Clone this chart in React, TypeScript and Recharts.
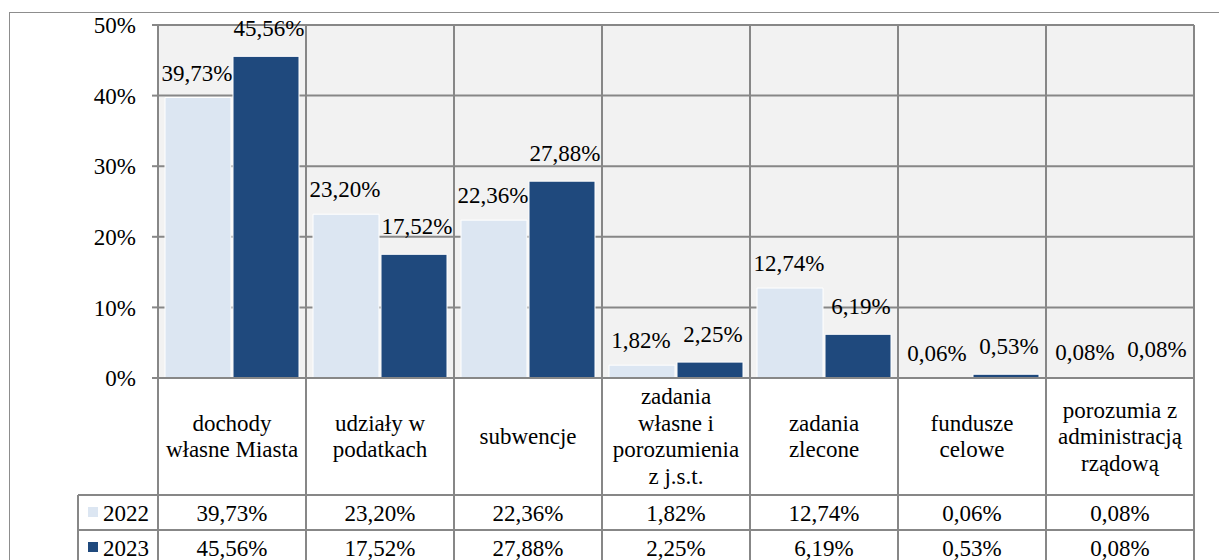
import React from 'react';
import { BarChart, Bar, XAxis, YAxis, CartesianGrid, LabelList } from 'recharts';

const categories = [
  'dochody własne Miasta',
  'udziały w podatkach',
  'subwencje',
  'zadania własne i porozumienia z j.s.t.',
  'zadania zlecone',
  'fundusze celowe',
  'porozumia z administracją rządową',
];
const categoryLines = [
  ['dochody', 'własne Miasta'],
  ['udziały w', 'podatkach'],
  ['subwencje'],
  ['zadania', 'własne i', 'porozumienia', 'z j.s.t.'],
  ['zadania', 'zlecone'],
  ['fundusze', 'celowe'],
  ['porozumia z', 'administracją', 'rządową'],
];
const series2022 = [39.73, 23.2, 22.36, 1.82, 12.74, 0.06, 0.08];
const series2023 = [45.56, 17.52, 27.88, 2.25, 6.19, 0.53, 0.08];
const seriesNames = ['2022', '2023'];
const yTicks = [0, 10, 20, 30, 40, 50];

const data = categories.map((c, i) => ({ name: c, v2022: series2022[i], v2023: series2023[i] }));

const FONT = "'Liberation Serif', 'Times New Roman', serif";
const FS = 23;
const GRID = '#878787';
const C2022 = '#dce6f2';
const C2023 = '#1f497d';

const W = 1219;
const H = 552;
const M = { top: 17, right: 33, left: 90, bottom: 0 };
const YW = 60;
const XH = 182;
const PLOT_L = M.left + YW;
const PLOT_R = W - M.right;
const PLOT_B = H - XH - M.bottom;
const HALF = (PLOT_R - PLOT_L) / categories.length / 2;
const LABEL_CY = 428;
const LINE_H = 26.5;
const ROW1_TOP = 487;
const ROW2_TOP = 522;
const ROW3_TOP = 557;
const LEG_L = 70;

const fmt = (v: number) => v.toFixed(2).replace('.', ',') + '%';

const makeLabel = (dx: number, off: number) => (props: any) => {
  const { x, y, width, value } = props;
  return (
    <text
      x={Number(x) + Number(width) / 2 + dx}
      y={Number(y) - off}
      textAnchor="middle"
      fontSize={FS}
      fontFamily={FONT}
      fill="#000"
    >
      {fmt(Number(value))}
    </text>
  );
};

const CategoryTick = (props: any) => {
  const { x, index } = props;
  const cx = Number(x);
  const lines = categoryLines[index] || [];
  const n = lines.length;
  return (
    <g>
      {index === 0 && (
        <g>
          <line x1={LEG_L} y1={ROW1_TOP} x2={PLOT_R} y2={ROW1_TOP} stroke={GRID} strokeWidth={2} />
          <line x1={LEG_L} y1={ROW2_TOP} x2={PLOT_R} y2={ROW2_TOP} stroke={GRID} strokeWidth={2} />
          <line x1={LEG_L} y1={ROW3_TOP} x2={PLOT_R} y2={ROW3_TOP} stroke={GRID} strokeWidth={2} />
          <line x1={LEG_L} y1={ROW1_TOP} x2={LEG_L} y2={H} stroke={GRID} strokeWidth={2} />
          <rect x={LEG_L + 10} y={ROW1_TOP + 12} width={10} height={10} fill={C2022} />
          <text x={LEG_L + 25} y={ROW1_TOP + 26} fontSize={FS} fontFamily={FONT} fill="#000">{seriesNames[0]}</text>
          <rect x={LEG_L + 10} y={ROW2_TOP + 12} width={10} height={10} fill={C2023} />
          <text x={LEG_L + 25} y={ROW2_TOP + 26} fontSize={FS} fontFamily={FONT} fill="#000">{seriesNames[1]}</text>
        </g>
      )}
      <line x1={cx - HALF} y1={PLOT_B} x2={cx - HALF} y2={H} stroke={GRID} strokeWidth={2} />
      {index === categories.length - 1 && (
        <line x1={cx + HALF} y1={PLOT_B} x2={cx + HALF} y2={H} stroke={GRID} strokeWidth={2} />
      )}
      {lines.map((t, i) => (
        <text
          key={i}
          x={cx}
          y={LABEL_CY + (i - (n - 1) / 2) * LINE_H + 8}
          textAnchor="middle"
          fontSize={FS}
          fontFamily={FONT}
          fill="#000"
        >
          {t}
        </text>
      ))}
      <text x={cx} y={ROW1_TOP + 26} textAnchor="middle" fontSize={FS} fontFamily={FONT} fill="#000">
        {fmt(series2022[index])}
      </text>
      <text x={cx} y={ROW2_TOP + 26} textAnchor="middle" fontSize={FS} fontFamily={FONT} fill="#000">
        {fmt(series2023[index])}
      </text>
    </g>
  );
};

const verticalGen = (args: any) => {
  const off = args && args.offset;
  const left = off && typeof off.left === 'number' ? off.left : PLOT_L;
  const width = off && typeof off.width === 'number' ? off.width : PLOT_R - PLOT_L;
  return Array.from({ length: categories.length + 1 }, (_, i) => left + (i * width) / categories.length);
};

export default function App() {
  return (
    <div style={{ position: 'relative', width: W, height: H, overflow: 'hidden', background: '#fff' }}>
      <div
        style={{
          position: 'absolute',
          left: 1,
          top: 4,
          width: 1400,
          height: 800,
          border: '1.5px solid #8d8d8d',
          boxSizing: 'border-box',
        }}
      />
      <div style={{ position: 'absolute', left: 0, top: 0 }}>
        <BarChart width={W} height={H} data={data} margin={M} barCategoryGap={7} barGap={2}>
          <CartesianGrid
            fill="#f2f2f2"
            fillOpacity={1}
            stroke={GRID}
            strokeWidth={2}
            verticalCoordinatesGenerator={verticalGen}
          />
          <XAxis
            dataKey="name"
            height={XH}
            interval={0}
            tickLine={false}
            axisLine={{ stroke: GRID, strokeWidth: 2 }}
            tick={<CategoryTick />}
          />
          <YAxis
            width={YW}
            domain={[0, 50]}
            ticks={yTicks}
            interval={0}
            tickFormatter={(v: number) => `${v}%`}
            tick={{ fill: '#000', fontSize: FS, fontFamily: FONT }}
            tickLine={{ stroke: GRID, strokeWidth: 2 }}
            tickSize={6}
            tickMargin={16}
            axisLine={{ stroke: GRID, strokeWidth: 2 }}
          />
          <Bar dataKey="v2022" fill={C2022} stroke="#ffffff" strokeWidth={1} isAnimationActive={false}>
            <LabelList dataKey="v2022" content={makeLabel(-1, 17)} />
          </Bar>
          <Bar dataKey="v2023" fill={C2023} stroke="#ffffff" strokeWidth={1} isAnimationActive={false}>
            <LabelList dataKey="v2023" content={makeLabel(3, 20)} />
          </Bar>
        </BarChart>
      </div>
    </div>
  );
}
